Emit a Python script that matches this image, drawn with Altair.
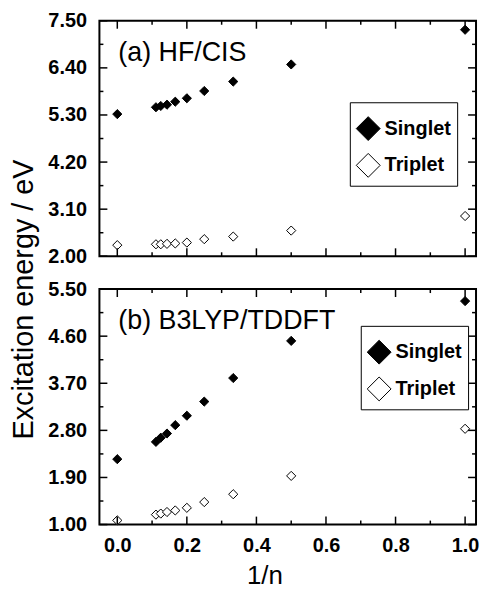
import altair as alt
import pandas as pd

FONT = "Liberation Sans"

# data
inv_n = [0.0, 1/9, 1/8, 1/7, 1/6, 1/5, 1/4, 1/3, 1/2, 1.0]
hf_singlet = [5.32, 5.48, 5.51, 5.54, 5.61, 5.69, 5.86, 6.08, 6.48, 7.29]
hf_triplet = [2.26, 2.28, 2.28, 2.29, 2.30, 2.32, 2.40, 2.46, 2.60, 2.94]
b3_singlet = [2.25, 2.58, 2.66, 2.74, 2.90, 3.08, 3.35, 3.80, 4.51, 5.27]
b3_triplet = [1.08, 1.19, 1.21, 1.24, 1.27, 1.32, 1.43, 1.58, 1.93, 2.83]
states = ["Singlet", "Triplet"]

x_major = [0.0, 0.2, 0.4, 0.6, 0.8, 1.0]
x_minor = [0.1, 0.3, 0.5, 0.7, 0.9]
hf_major = [2.00, 3.10, 4.20, 5.30, 6.40, 7.50]
hf_minor = [2.55, 3.65, 4.75, 5.85, 6.95]
b3_major = [1.00, 1.90, 2.80, 3.70, 4.60, 5.50]
b3_minor = [1.45, 2.35, 3.25, 4.15, 5.05]

W, H = 379, 237
XDOM = [-0.0514, 1.0314]


def panel(singlet, triplet, ymaj, ymin, label, legend_xy, bottom):
    xscale = alt.Scale(domain=XDOM, nice=False, zero=False)
    yscale = alt.Scale(domain=[ymaj[0], ymaj[-1]], nice=False, zero=False)
    if bottom:
        xaxis = alt.Axis(values=x_major, format=".1f", ticks=False, tickSize=0, domain=False,
                         grid=False, labelFontSize=20, labelFontWeight="bold", labelPadding=11,
                         labelFont=FONT, labelColor="black", title="1/n", titleFontSize=26,
                         titleFontWeight="normal", titleFont=FONT, titleColor="black",
                         titleX=166, titleY=59, titleBaseline="alphabetic")
    else:
        xaxis = alt.Axis(labels=False, ticks=False, domain=False, grid=False, title="")
    yaxis = alt.Axis(values=ymaj, format=".2f", ticks=False, tickSize=0, domain=False,
                     grid=False, labelFontSize=20, labelFontWeight="bold", labelPadding=13,
                     labelFont=FONT, labelColor="black", title="")
    X = alt.X("x:Q", scale=xscale, axis=xaxis)
    Y = alt.Y("y:Q", scale=yscale, axis=yaxis)

    pts = pd.DataFrame({
        "x": inv_n + inv_n,
        "y": singlet + triplet,
        "state": [states[0]] * len(singlet) + [states[1]] * len(triplet),
    })
    points = alt.Chart(pts).mark_point(shape="diamond", filled=True, size=85, stroke="black",
                                       strokeWidth=1, opacity=1).encode(
        x=X, y=Y,
        fill=alt.Fill("state:N", scale=alt.Scale(domain=states, range=["black", "white"]),
                      legend=alt.Legend(orient="none", legendX=legend_xy[0], legendY=legend_xy[1],
                                        title=" ", titleFontSize=1, titlePadding=7, padding=6,
                                        strokeColor="black", fillColor="white",
                                        symbolType="diamond", symbolSize=576,
                                        symbolStrokeColor="black", symbolStrokeWidth=1,
                                        labelFontSize=20, labelFont=FONT, labelFontWeight="bold",
                                        labelColor="black", labelOffset=4, rowPadding=8,
                                        cornerRadius=0)),
    )

    layers = []
    for vals, L in ((x_major, 8), (x_minor, 4)):
        d = pd.DataFrame({"x": vals})
        layers.append(alt.Chart(d).mark_rule(color="black", strokeWidth=1.5).encode(
            x=X, y=alt.value(0), y2=alt.value(L)))
        layers.append(alt.Chart(d).mark_rule(color="black", strokeWidth=1.5).encode(
            x=X, y=alt.value(H - L), y2=alt.value(H)))
    for vals, L in ((ymaj, 8), (ymin, 4)):
        d = pd.DataFrame({"y": vals})
        layers.append(alt.Chart(d).mark_rule(color="black", strokeWidth=1.5).encode(
            y=Y, x=alt.value(0), x2=alt.value(L)))
        layers.append(alt.Chart(d).mark_rule(color="black", strokeWidth=1.5).encode(
            y=Y, x=alt.value(W - L), x2=alt.value(W)))

    text = alt.Chart(pd.DataFrame({"t": [label]})).mark_text(
        align="left", baseline="alphabetic", fontSize=27, font=FONT, color="black"
    ).encode(x=alt.value(19), y=alt.value(40), text="t:N")

    return alt.layer(points, *layers, text).properties(width=W, height=H)


top = panel(hf_singlet, hf_triplet, hf_major, hf_minor, "(a) HF/CIS", (252, 82), False)
bot = panel(b3_singlet, b3_triplet, b3_major, b3_minor, "(b) B3LYP/TDDFT", (263, 37), True)

chart = alt.VConcatChart(
    vconcat=[top, bot], spacing=33, bounds="flush",
    title=alt.TitleParams("Excitation energy / eV", orient="left", anchor="middle", fontSize=29,
                          fontWeight="normal", font=FONT, color="black", offset=8),
).resolve_scale(fill="independent").resolve_legend(fill="independent").properties(
    padding={"left": 2, "top": 0, "right": 0, "bottom": 0}
).configure_view(stroke="black", strokeWidth=2)

chart.save("out.html", embed_options={"renderer": "svg", "actions": False})
